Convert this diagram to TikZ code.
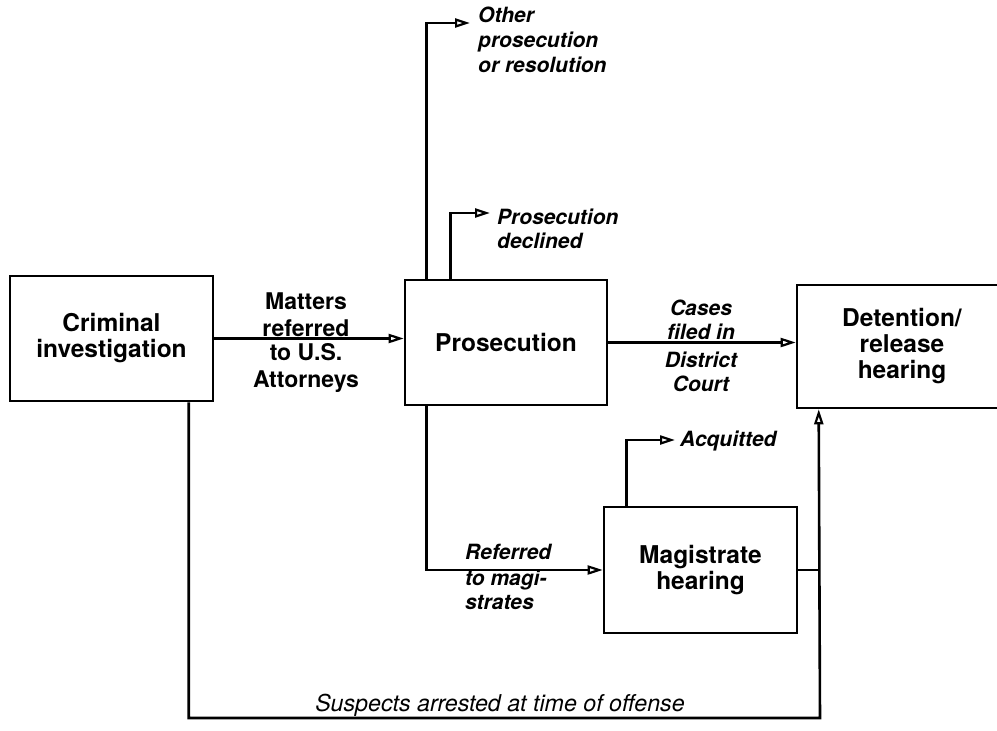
\documentclass[tikz,border=0pt]{standalone}
\usepackage{fontspec}
\setmainfont{TeX Gyre Heros}
\usetikzlibrary{arrows.meta,positioning}
\tikzset{
  box/.style={draw, line width=2.6pt, minimum width=#1, inner sep=0pt, align=center,
    font=\bfseries\fontsize{24.5}{26}\selectfont},
  lab/.style={inner sep=0pt, align=left, font=\bfseries\itshape\fontsize{21}{24}\selectfont},
  clab/.style={inner sep=0pt, align=center, font=\bfseries\itshape\fontsize{21}{24}\selectfont},
  mlab/.style={inner sep=0pt, align=center, font=\bfseries\fontsize{23}{27}\selectfont},
  conn/.style={line width=2.6pt},
  arr/.style={conn, -{Triangle[open,length=15pt,width=9pt,line width=2.2pt]}},
}
\begin{document}
\begin{tikzpicture}[x=1pt,y=-1pt]
\useasboundingbox (0,0) rectangle (997,731);
\node[box=203pt, minimum height=125pt] (crim) at (111.5,338.5) {Criminal\\investigation};
\node[box=202pt, minimum height=125pt] (pros) at (506,342.5) {Prosecution};
\node[box=210pt, minimum height=123pt] (det) at (902,346.5) {Detention/\\release\\hearing};
\node[box=193pt, minimum height=126pt] (mag) at (700.5,570) {Magistrate\\hearing};

\coordinate (o1) at (470,23);
\coordinate (d1) at (490,213);
\coordinate (a1) at (675,440);
\coordinate (j) at (820,718);

\node[lab, anchor=west, font=\bfseries\itshape\fontsize{21}{25}\selectfont] (other) at (478,40) {Other\\prosecution\\or resolution};
\node[lab, anchor=west] (decl) at (497,229) {Prosecution\\declined};
\node[lab, anchor=west] (acq) at (680,441) {Acquitted};

\node[mlab, anchor=south] (mat1) at (306,337) {Matters\\referred};
\node[mlab, anchor=north] (mat2) at (306,343) {to U.S.\\Attorneys};
\node[clab, anchor=south] (cas1) at (701,340) {Cases\\filed in};
\node[clab, anchor=north] (cas2) at (701,352) {District\\Court};
\node[lab, anchor=north west] (ref1) at (465,544) {Referred};
\node[lab, anchor=north west] (ref2) at (465,570) {to magi-\\strates};
\node[inner sep=0pt, font=\itshape\fontsize{23.2}{26}\selectfont] (sus) at (500,705) {Suspects arrested at time of offense};

\draw[arr] (crim.east) -- (pros.west |- crim.east);
\draw[arr] (pros.east) -- (det.west |- pros.east);
\draw[arr] ([xshift=23pt]pros.north west) |- (o1);
\draw[arr] ([xshift=47pt]pros.north west) |- (d1);
\draw[arr] ([xshift=23pt]pros.south west) |- (mag.west);
\draw[arr] ([xshift=24pt]mag.north west) |- (a1);
\draw[conn] (mag.east) -- (mag.east -| j);
\draw[arr] ([xshift=180pt]crim.south west) |- (j) -- ([xshift=23pt]det.south west);
\end{tikzpicture}
\end{document}
